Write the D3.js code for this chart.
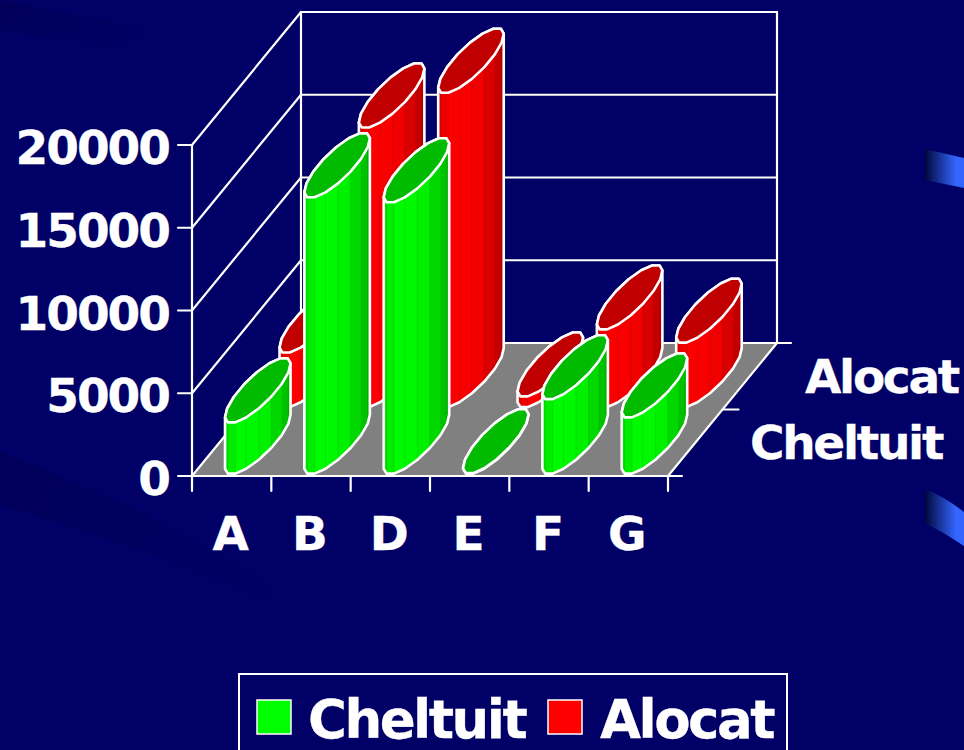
<!DOCTYPE html>
<html>
<head>
<meta charset="utf-8">
<style>
  html, body { margin: 0; padding: 0; background: #000066; overflow: hidden; }
  text { font-family: "DejaVu Sans", sans-serif; font-weight: bold; fill: #fff; stroke: #fff; stroke-width: 0.3; }
</style>
<script src="https://cdn.jsdelivr.net/npm/d3@7"></script>
</head>
<body>
<svg id="chart" width="964" height="750"></svg>
<script>
const categories = ["A", "B", "D", "E", "F", "G"];
const seriesNames = ["Cheltuit", "Alocat"];
const cheltuit = [3100, 16700, 16400, 30, 4500, 3400];
const alocat = [3300, 16900, 19000, 650, 4700, 3900];
const yTicks = [0, 5000, 10000, 15000, 20000];

const svg = d3.select("#chart");
const frontY = 476, depthX = 109, depthY = 133;

const x = d3.scaleBand().domain(categories).range([192, 668]);
const y = d3.scaleLinear().domain([0, 20000]).range([0, 331]);
// series sit one behind the other, 0 = front wall, 1 = back wall
const z = d3.scaleBand().domain(seriesNames).range([0, 1]);

function project(px, depth, value) {
    return [px + depth * depthX, frontY - depth * depthY - y(value)];
}

const defs = svg.append("defs");
const glow = defs.append("linearGradient").attr("id", "glow");
glow.append("stop").attr("offset", "0").attr("stop-color", "#00063c");
glow.append("stop").attr("offset", "0.8").attr("stop-color", "#3366ff");
const streak = defs.append("linearGradient").attr("id", "streak")
    .attr("x1", 0).attr("y1", 0).attr("x2", 1).attr("y2", 0.4);
streak.append("stop").attr("offset", "0").attr("stop-color", "#00005a");
streak.append("stop").attr("offset", "1").attr("stop-color", "#000066");

// background decoration
const line = d3.line().curve(d3.curveLinearClosed);
svg.append("rect").attr("width", 964).attr("height", 750).attr("fill", "#000066");
svg.append("path").attr("fill", "url(#streak)")
    .attr("d", "M0,0 L190,35 L120,50 L0,30 Z");
svg.append("path").attr("fill", "url(#streak)")
    .attr("d", "M0,452 C130,500 260,570 370,650 C250,590 120,540 0,505 Z");
svg.append("path").attr("fill", "url(#glow)")
    .attr("d", "M925,149 L964,158 L964,188 L925,180 Z");
svg.append("path").attr("fill", "url(#glow)")
    .attr("d", "M925,489 Q945,497 964,512 L964,546 Q945,533 925,523 Z");

// floor
const xMin = x.range()[0], xMax = x.range()[1];
svg.append("path")
    .attr("d", line([project(xMin, 0, 0), project(xMax, 0, 0), project(xMax, 1, 0), project(xMin, 1, 0)]))
    .attr("fill", "#808080").attr("stroke", "none");

// walls and grid
const wire = svg.append("g").attr("stroke", "#fff").attr("stroke-width", 2)
    .attr("stroke-linecap", "round").attr("fill", "none");

function seg(a, b, w) {
    wire.append("line").attr("x1", a[0]).attr("y1", a[1]).attr("x2", b[0]).attr("y2", b[1])
        .attr("stroke-width", w || 2.2);
}

yTicks.forEach(t => {
    seg(project(xMin, 0, t), project(xMin, 1, t));
    seg(project(xMin, 1, t), project(xMax, 1, t));
    const p = project(xMin, 0, t);
    seg([p[0] - 14, p[1]], p);
});
seg(project(xMin, 0, 0), project(xMin, 0, 20000));
seg(project(xMin, 1, 0), project(xMin, 1, 20000));
seg(project(xMax, 1, 0), project(xMax, 1, 20000));
seg(project(xMin, 0, 0), project(xMax + 14, 0, 0));
seg(project(xMax, 0, 0), project(xMax, 1, 0));
seg(project(xMax, 1, 0), project(xMax + 14, 1, 0));
seg(project(xMax, 0.5, 0), project(xMax + 16, 0.5, 0));
x.domain().forEach(c => {
    const p = project(x(c), 0, 0);
    seg(p, [p[0], p[1] + 15]);
});
const endTick = project(xMax, 0, 0);
seg(endTick, [endTick[0], endTick[1] + 15]);

// cylinders
const sides = 16, radiusX = 19, radiusZ = 0.245;
const angles = d3.range(sides).map(i => 2 * Math.PI * (i + 0.5) / sides);

const sideColors = {
    Cheltuit: d3.scaleLinear().domain([0, 0.3, 0.65, 1]).range(["#00e400", "#00ff00", "#00ee00", "#00b400"]),
    Alocat: d3.scaleLinear().domain([0, 0.3, 0.65, 1]).range(["#e40000", "#ff0000", "#ee0000", "#b40000"])
};
const topColors = { Cheltuit: "#00bb00", Alocat: "#c00000" };

function ring(cat, name, value) {
    const cx = x(cat) + x.bandwidth() / 2 - 2;
    const cz = z(name) + z.bandwidth() / 2 + 0.008;
    return angles.map(t => project(cx + radiusX * Math.cos(t), cz + radiusZ * Math.sin(t), value));
}

function drawSeries(name, values) {
    const g = svg.append("g").attr("class", name);
    categories.forEach((cat, i) => {
        const base = ring(cat, name, 0);
        const top = ring(cat, name, values[i]);
        const hull = d3.polygonHull(base.concat(top));
        const lo = d3.min(hull, d => d[0]), hi = d3.max(hull, d => d[0]);

        g.append("path").attr("d", line(hull)).attr("fill", sideColors[name](0.3));

        const facets = angles.map((t, j) => j)
            .filter(j => base[(j + 1) % sides][0] > base[j][0]);
        g.selectAll(null).data(facets).enter().append("path")
            .attr("d", j => {
                const k = (j + 1) % sides;
                return line([base[j], base[k], top[k], top[j]]);
            })
            .attr("fill", j => {
                const k = (j + 1) % sides;
                return sideColors[name](((base[j][0] + base[k][0]) / 2 - lo) / (hi - lo));
            })
            .attr("stroke", j => d3.color(sideColors[name](((base[j][0] - lo) / (hi - lo)))).darker(0.35))
            .attr("stroke-width", 0.6);

        g.append("path").attr("d", line(hull)).attr("fill", "none")
            .attr("stroke", "#fff").attr("stroke-width", 2.6).attr("stroke-linejoin", "round");
        g.append("path").attr("d", line(top)).attr("fill", topColors[name])
            .attr("stroke", "#fff").attr("stroke-width", 2.6).attr("stroke-linejoin", "round");
    });
}

drawSeries("Alocat", alocat);
drawSeries("Cheltuit", cheltuit);

// labels
const axisFont = 47;
svg.selectAll(".ylab").data(yTicks).enter().append("text")
    .attr("class", "ylab")
    .attr("x", 169).attr("y", d => frontY - y(d) + 19)
    .attr("text-anchor", "end").attr("font-size", axisFont).attr("letter-spacing", -2)
    .text(d => d);

svg.selectAll(".xlab").data(categories).enter().append("text")
    .attr("class", "xlab")
    .attr("x", d => x(d) + x.bandwidth() / 2 - 1).attr("y", 550)
    .attr("text-anchor", "middle").attr("font-size", axisFont)
    .text(d => d);

svg.append("text").attr("x", 805).attr("y", 393).attr("font-size", axisFont).attr("letter-spacing", -2.3).text(seriesNames[1]);
svg.append("text").attr("x", 750).attr("y", 459).attr("font-size", axisFont).attr("letter-spacing", -2.3).text(seriesNames[0]);

// legend
svg.append("rect").attr("x", 239).attr("y", 674).attr("width", 548).attr("height", 90)
    .attr("fill", "none").attr("stroke", "#fff").attr("stroke-width", 2);
const legendItems = [
    { name: seriesNames[0], color: "#00ff00", sx: 257, tx: 308 },
    { name: seriesNames[1], color: "#ff0000", sx: 548, tx: 600 }
];
legendItems.forEach(d => {
    svg.append("rect").attr("x", d.sx).attr("y", 700).attr("width", 34).attr("height", 34)
        .attr("fill", d.color).attr("stroke", "#fff").attr("stroke-width", 1.5);
    svg.append("text").attr("x", d.tx).attr("y", 738).attr("font-size", 53)
        .attr("letter-spacing", -2.5).text(d.name);
});
</script>
</body>
</html>
